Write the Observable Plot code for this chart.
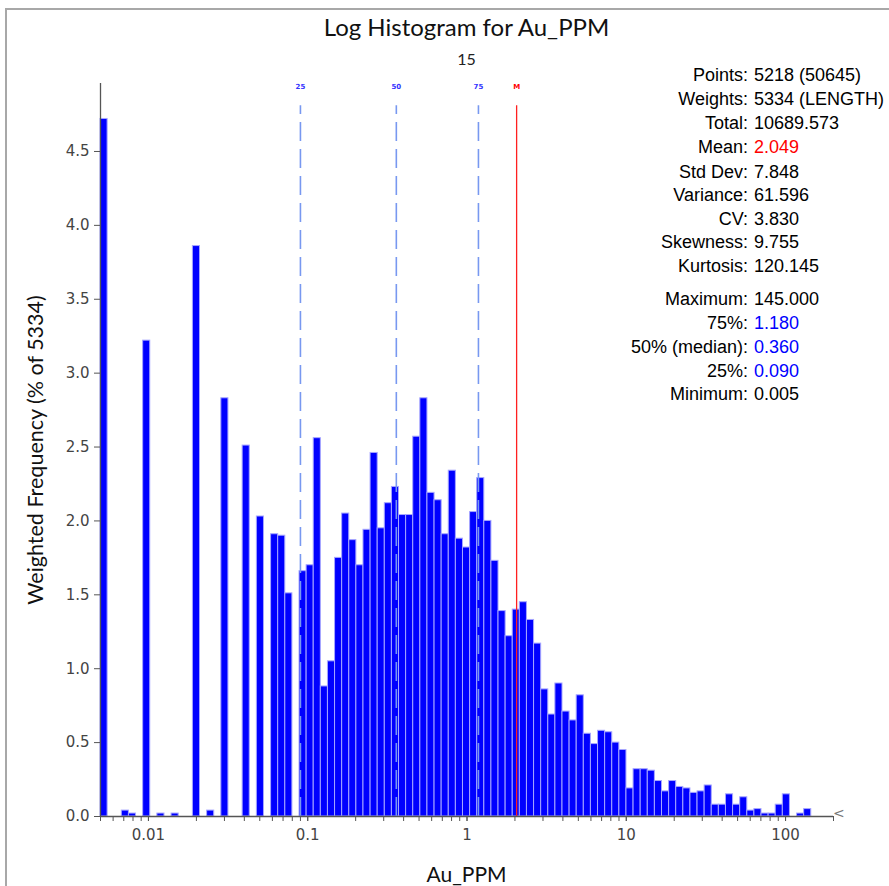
<!DOCTYPE html>
<html>
<head>
<meta charset="utf-8">
<script src="https://cdn.jsdelivr.net/npm/d3@7"></script>
<script src="https://cdn.jsdelivr.net/npm/@observablehq/plot@0.6"></script>
<style>
  html, body { margin: 0; padding: 0; background: #fff; }
  #wrap { position: relative; width: 889px; height: 886px; overflow: hidden; background: #fff; }
  #frame { position: absolute; left: 5px; top: 8px; right: -10px; bottom: -10px; border-top: 2px solid #a8a8a8; border-left: 2px solid #a8a8a8; }
  .t { position: absolute; white-space: nowrap; }
  #title { left: 0; width: 933px; text-align: center; top: 12px; font: 24px Lato, "Open Sans", sans-serif; color: #111; }
  #sub { left: 0; width: 933px; text-align: center; top: 49px; font: 16px Lato, sans-serif; color: #222; }
  #xlab { left: 0; width: 933px; text-align: center; top: 861px; font: 21px Lato, sans-serif; color: #111; }
  #ylab { left: 35px; top: 450px; transform: translate(-50%, -50%) rotate(-90deg); font: 21.5px Lato, sans-serif; color: #111; }
  .sl { position: absolute; right: 141px; text-align: right; font: 18px "Liberation Sans", Arial, sans-serif; color: #000; line-height: 20px; }
  .sv { position: absolute; left: 754px; font: 18px "Liberation Sans", Arial, sans-serif; color: #000; line-height: 20px; }
  #chev { left: 833px; top: 805px; font: 14px "DejaVu Sans", sans-serif; color: #777; }
</style>
</head>
<body>
<div id="wrap">
  <div id="frame"></div>
  <div id="chart"></div>
  <div class="t" id="title">Log Histogram for Au_PPM</div>
  <div class="t" id="sub">15</div>
  <div class="t" id="xlab">Au_PPM</div>
  <div class="t" id="ylab">Weighted Frequency (% of 5334)</div>
  <div class="t" id="chev">&lt;</div>
  <div id="stats"></div>
</div>
<script>
// ---- data ----
const binCount = 100;
const minValue = 0.005;
const maxValue = 145;
// weighted frequency (% of 5334) for each of the 100 log-spaced bins
const frequencies = [
  4.72, 0, 0, 0.04, 0.02, 0, 3.22, 0, 0.02, 0,
  0.02, 0, 0, 3.86, 0, 0.04, 0, 2.83, 0, 0,
  2.51, 0, 2.03, 0, 1.91, 1.90, 1.51, 0, 1.66, 1.70,
  2.56, 0.88, 1.05, 1.75, 2.05, 1.87, 1.70, 1.94, 2.46, 1.95,
  2.12, 2.23, 2.04, 2.04, 2.57, 2.83, 2.19, 2.14, 1.91, 2.34,
  1.88, 1.82, 2.06, 2.29, 2.00, 1.73, 1.39, 1.22, 1.40, 1.45,
  1.33, 1.17, 0.86, 0.69, 0.90, 0.71, 0.65, 0.82, 0.56, 0.49,
  0.58, 0.57, 0.50, 0.45, 0.19, 0.32, 0.32, 0.31, 0.24, 0.17,
  0.24, 0.20, 0.19, 0.16, 0.17, 0.21, 0.08, 0.08, 0.15, 0.08,
  0.13, 0.04, 0.05, 0.02, 0.02, 0.08, 0.15, 0, 0.02, 0.05
];
const quantileValues = [0.09, 0.36, 1.18];
const quantileLabels = ["25", "50", "75"];
const meanValue = 2.049;
const meanLabel = "M";
const xTickValues = [0.01, 0.1, 1, 10, 100];
const xTickLabels = ["0.01", "0.1", "1", "10", "100"];
const yTickValues = [0, 0.5, 1, 1.5, 2, 2.5, 3, 3.5, 4, 4.5];
const yTickLabels = ["0.0", "0.5", "1.0", "1.5", "2.0", "2.5", "3.0", "3.5", "4.0", "4.5"];
const statLabels = ["Points:", "Weights:", "Total:", "Mean:", "Std Dev:", "Variance:", "CV:", "Skewness:", "Kurtosis:",
                    "Maximum:", "75%:", "50% (median):", "25%:", "Minimum:"];
const statValues = ["5218 (50645)", "5334 (LENGTH)", "10689.573", "2.049", "7.848", "61.596", "3.830", "9.755", "120.145",
                    "145.000", "1.180", "0.360", "0.090", "0.005"];
const statColors = ["#000", "#000", "#000", "#ff0000", "#000", "#000", "#000", "#000", "#000",
                    "#000", "#0000ff", "#0000ff", "#0000ff", "#000"];

// ---- build ----
const step = Math.log10(maxValue / minValue) / binCount;
const bins = frequencies.map((v, i) => ({
  x1: minValue * Math.pow(10, i * step),
  x2: minValue * Math.pow(10, (i + 1) * step),
  v
})).filter(d => d.v > 0);

const minorTicks = [];
for (let e = -3; e <= 2; e++) for (let m = 1; m <= 9; m++) {
  const t = m * Math.pow(10, e);
  if (t >= 0.005 - 1e-9 && t <= 200 + 1e-9) minorTicks.push(+t.toPrecision(6));
}
const yTop = 4.96, lineTop = 4.81, labelY = 4.935;

const chart = Plot.plot({
  width: 889, height: 886,
  marginLeft: 100, marginRight: 56, marginTop: 83, marginBottom: 70,
  x: {type: "log", domain: [0.005, 200]},
  y: {domain: [0, yTop]},
  style: {fontFamily: "'DejaVu Sans', Verdana, sans-serif", fontSize: "15px", color: "#444", background: "transparent", overflow: "visible"},
  marks: [
    Plot.rectY(bins, {x1: "x1", x2: "x2", y: "v", fill: "#0000ff", stroke: "#a6a6ff", strokeWidth: 1}),
    Plot.ruleX(quantileValues, {x: d => d, y1: 0, y2: lineTop, stroke: "#7898f0", strokeWidth: 1.6, strokeDasharray: "19,8"}),
    Plot.ruleX([meanValue], {x: d => d, y1: 0, y2: lineTop, stroke: "#ff2020", strokeWidth: 1.3}),
    Plot.text(quantileValues, {x: d => d, y: labelY, text: (d, i) => quantileLabels[i], fill: "#3333ff", fontSize: 7, fontWeight: "bold", fontFamily: "'DejaVu Sans', sans-serif"}),
    Plot.text([meanValue], {x: d => d, y: labelY, text: () => meanLabel, fill: "#ff0000", fontSize: 7, fontWeight: "bold", fontFamily: "'DejaVu Sans', sans-serif"}),
    Plot.ruleY([0], {stroke: "#555", strokeWidth: 1.3}),
    Plot.ruleX([0.005], {y1: 0, y2: yTop, stroke: "#555", strokeWidth: 1.3}),
    Plot.axisY({ticks: yTickValues, tickFormat: (d, i) => yTickLabels[yTickValues.indexOf(d)], tickSize: 6, tickPadding: 5, label: null, stroke: "#555"}),
    Plot.axisX({ticks: minorTicks, tickFormat: () => "", tickSize: 5, label: null, stroke: "#555"}),
    Plot.axisX({ticks: xTickValues, tickFormat: d => xTickLabels[xTickValues.indexOf(d)], tickSize: 5, tickPadding: 8, label: null, stroke: "#555"})
  ]
});
document.getElementById("chart").appendChild(chart);

const stats = document.getElementById("stats");
const rowY = [75, 99, 123, 147, 172, 195, 219, 242, 266, 299, 323, 347, 371, 394];
statLabels.forEach((lab, i) => {
  const l = document.createElement("div");
  l.className = "sl"; l.textContent = lab; l.style.top = (rowY[i] - 10) + "px";
  const v = document.createElement("div");
  v.className = "sv"; v.textContent = statValues[i]; v.style.top = (rowY[i] - 10) + "px"; v.style.color = statColors[i];
  stats.appendChild(l); stats.appendChild(v);
});
</script>
</body>
</html>
